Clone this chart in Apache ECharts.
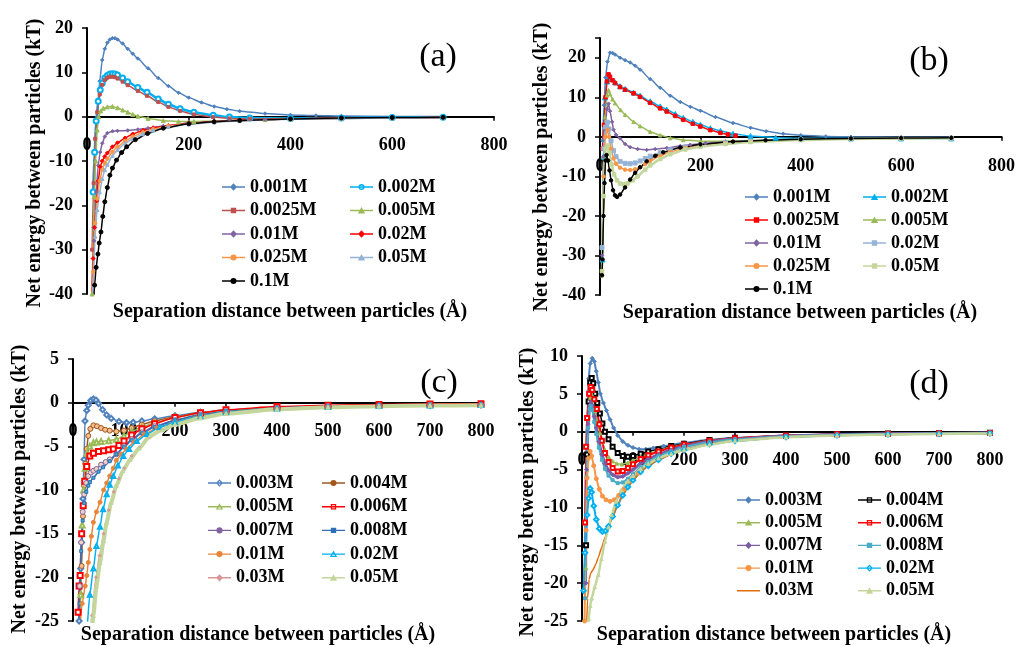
<!DOCTYPE html>
<html><head><meta charset="utf-8">
<script src="https://cdn.jsdelivr.net/npm/echarts@6/dist/echarts.min.js"></script>
<style>html,body{margin:0;padding:0;background:#fff}#c{width:1018px;height:647px}</style>
</head><body><div id="c"></div>
<script>
// ---------- Panel (a) ----------
const A_names = ['0.001M','0.002M','0.0025M','0.005M','0.01M','0.02M','0.025M','0.05M','0.1M'];
const A_0001 = [[10,-45],[13,-25],[16,-10],[20,0],[25,8],[30,12.8],[35,15.3],[40,16.7],[45,17.4],[50,17.7],[55,17.7],[60,17.4],[70,16.5],[80,15.3],[90,14.2],[100,13.1],[120,10.9],[140,8.7],[160,6.9],[180,5.4],[200,4.3],[225,3.2],[250,2.3],[275,1.7],[300,1.25],[350,0.7],[400,0.4],[450,0.25],[500,0.15],[600,0.05],[700,0.02]];
const A_0002 = [[12,-17],[15,-8],[18,-1],[22,3.5],[26,6],[30,7.6],[35,8.7],[40,9.3],[45,9.6],[50,9.7],[55,9.6],[60,9.4],[70,8.7],[80,7.9],[100,6.6],[118,5.5],[140,4.0],[160,2.8],[183,1.8],[210,1.0],[248,0.3],[280,-0.1],[320,-0.3],[400,-0.4],[500,-0.3],[600,-0.2],[700,-0.15]];
const A_00025 = [[10,-30],[13,-15],[16,-5],[20,1],[25,5],[30,7.2],[35,8.3],[40,8.8],[45,9.0],[50,9.0],[55,8.9],[60,8.6],[70,7.9],[80,7.1],[100,5.8],[118,4.7],[140,3.3],[160,2.2],[183,1.3],[210,0.5],[248,-0.1],[280,-0.4],[320,-0.5],[400,-0.5],[500,-0.35],[600,-0.25],[700,-0.2]];
const A_0005 = [[10,-40],[14,-18],[17,-10],[20,-3],[23,0],[27,1.3],[32,1.9],[40,2.2],[50,2.3],[60,2.0],[70,1.5],[80,1.0],[90,0.5],[100,0.1],[120,-0.4],[150,-0.9],[180,-1.1],[210,-1.1],[250,-1.0],[300,-0.8],[350,-0.65],[400,-0.5],[500,-0.35],[600,-0.25],[700,-0.2]];
const A_001 = [[10,-45],[14,-28],[18,-17],[22,-11],[26,-8],[30,-6],[35,-4.5],[40,-3.7],[50,-3.3],[60,-3.2],[80,-3.1],[100,-2.9],[120,-2.6],[150,-2.1],[200,-1.5],[250,-1.1],[300,-0.85],[350,-0.65],[400,-0.5],[500,-0.35],[600,-0.25],[700,-0.2]];
const A_002 = [[8,-45],[12,-32],[15,-25],[19,-19],[22,-14.5],[26,-11.3],[30,-10],[35,-9],[40,-8.2],[50,-6.8],[60,-5.9],[75,-4.8],[90,-3.9],[110,-3.1],[130,-2.5],[160,-2.0],[200,-1.5],[250,-1.1],[300,-0.8],[400,-0.5],[500,-0.35],[600,-0.25],[700,-0.2]];
const A_0025 = [[8,-45],[12,-35],[16,-24],[20,-18.5],[25,-14.5],[30,-12],[35,-10.5],[40,-9.5],[50,-7.9],[60,-6.8],[75,-5.5],[90,-4.5],[110,-3.5],[130,-2.8],[160,-2.1],[200,-1.6],[250,-1.2],[300,-0.9],[400,-0.55],[500,-0.4],[600,-0.3],[700,-0.2]];
const A_005 = [[8,-45],[12,-38],[16,-27],[20,-21],[25,-17],[30,-14],[35,-12],[40,-10.8],[50,-8.8],[60,-7.5],[75,-6],[90,-5],[110,-3.9],[130,-3.1],[160,-2.3],[200,-1.7],[250,-1.25],[300,-0.95],[400,-0.6],[500,-0.4],[600,-0.3],[700,-0.25]];
const A_01 = [[13,-42],[15,-38],[18,-34],[21.5,-31],[24,-28.5],[27.5,-26],[31,-22.5],[35,-19.2],[40,-16],[45,-13.2],[50,-11.6],[58,-9.8],[68,-8.1],[78,-6.8],[95,-5.2],[119,-3.8],[150,-2.6],[200,-1.6],[250,-1.15],[300,-0.85],[400,-0.5],[500,-0.3],[600,-0.2],[700,-0.15]];

// ---------- Panel (b) ----------
const B_names = ['0.001M','0.002M','0.0025M','0.005M','0.01M','0.02M','0.025M','0.05M','0.1M'];
const B_0001 = [[5,-1],[8,8],[11,15],[15,19],[20,21.3],[25,21.2],[30,20.8],[40,20],[50,19.4],[60,18.8],[70,18],[80,17],[100,14.6],[120,12.4],[140,10.4],[160,8.8],[180,7.6],[200,6.6],[230,5],[265,3.5],[300,2.3],[331,1.4],[365,0.8],[400,0.4],[450,0.1],[500,0],[600,-0.1],[700,-0.1]];
const B_0002 = [[5,-31],[7,-5],[10,10],[14,14],[18,15],[22,14.6],[30,13.8],[40,12.8],[50,12.1],[67,11.2],[80,10.4],[100,9.0],[120,7.7],[133,6.9],[150,5.8],[166,4.8],[185,3.8],[200,3.1],[220,2.2],[240,1.5],[265,0.8],[300,0.2],[350,-0.2],[400,-0.35],[500,-0.4],[600,-0.4],[700,-0.4]];
const B_00025 = [[5,-3],[8,3],[11,10],[14,14],[17,15.8],[20,15.2],[25,14.3],[30,13.6],[40,12.6],[50,11.9],[67,11.0],[80,10.1],[100,8.6],[120,7.2],[133,6.4],[150,5.3],[166,4.3],[185,3.3],[200,2.6],[220,1.7],[240,1.0],[255,0.6],[270,0.3]];
const B_0005 = [[4,-35],[7,-5],[10,5],[14,10.5],[17,11.8],[20,10.8],[25,9.5],[30,8.5],[41,6.8],[50,5.6],[67,3.8],[80,2.7],[100,1.3],[120,0.4],[140,-0.3],[166,-0.8],[200,-1.1],[250,-1.1],[300,-0.9],[400,-0.6],[500,-0.45],[600,-0.35],[700,-0.3]];
const B_001 = [[4,-30],[7,-5],[10,2],[14,7],[17,8.4],[20,6.5],[24,3.8],[27,1.8],[32,0.5],[40,-0.4],[50,-1.8],[60,-2.6],[75,-3.1],[93,-3.3],[110,-3.1],[133,-2.8],[160,-2.3],[180,-2.0],[210,-1.6],[250,-1.3],[300,-1.0],[400,-0.7],[500,-0.5],[600,-0.4],[700,-0.35]];
const B_002 = [[4,-28],[7,-3],[11,2.5],[15,3.7],[18,2],[22,-1],[27,-3.5],[32,-5],[40,-6.2],[50,-6.7],[60,-6.8],[70,-6.6],[80,-6.1],[90,-5.5],[100,-4.9],[120,-4],[140,-3.3],[170,-2.6],[200,-2.1],[250,-1.5],[300,-1.1],[400,-0.7],[500,-0.5],[600,-0.4],[700,-0.35]];
const B_0025 = [[4,-35],[7,-10],[11,0],[15,1.8],[18,0],[22,-3],[27,-5.5],[32,-6.8],[40,-7.8],[50,-8.3],[60,-8.4],[70,-8.2],[80,-7.6],[90,-6.9],[100,-6.1],[120,-4.8],[140,-3.8],[170,-2.8],[200,-2.2],[250,-1.6],[300,-1.2],[400,-0.75],[500,-0.5],[600,-0.4],[700,-0.35]];
const B_005 = [[4,-34],[7,-15],[11,-3],[15,-2.2],[19,-4],[23,-7],[28,-9.5],[34,-11],[40,-11.8],[47,-12],[55,-11.8],[65,-11],[75,-10],[90,-8.3],[100,-7.2],[120,-5.6],[140,-4.4],[170,-3.2],[200,-2.5],[250,-1.8],[300,-1.3],[400,-0.8],[500,-0.55],[600,-0.4],[700,-0.35]];
const B_01 = [[4,-35],[5,-31],[7,-20],[9,-11.7],[11,-6],[13,-4.6],[16,-6],[19,-8.5],[22,-11],[26,-13.5],[30,-14.8],[34,-15.2],[40,-14.6],[50,-12.8],[60,-10.8],[70,-9.1],[80,-7.7],[93,-6.2],[110,-4.8],[126,-3.9],[160,-2.7],[200,-1.9],[265,-1.2],[330,-0.85],[400,-0.6],[500,-0.4],[600,-0.3],[700,-0.25]];

// ---------- Panel (c) ----------
const C_names = ['0.003M','0.004M','0.005M','0.006M','0.007M','0.008M','0.01M','0.02M','0.03M','0.05M'];
const C_0003 = [[12,-25],[15,-19],[17,-16],[19.5,-11],[21.6,-6.5],[23.5,-2.1],[27,-0.9],[30,-0.3],[35,0.25],[40,0.42],[45,0.3],[50,-0.1],[58,-0.8],[66,-1.4],[75,-1.8],[90,-2.15],[105,-2.3],[118,-2.25],[135,-2.1],[160,-1.85],[200,-1.5],[250,-1.1],[300,-0.85],[400,-0.55],[500,-0.4],[600,-0.33],[700,-0.3],[800,-0.28]];
const C_0004 = [[12,-28],[15,-22],[17,-18.7],[19.5,-13],[21.6,-9.5],[24,-7],[26.8,-5.3],[30,-3.8],[34,-3.0],[40,-2.6],[47,-2.7],[55,-2.9],[63,-3.1],[72,-3.2],[85,-3.3],[100,-3.2],[115,-2.9],[135,-2.5],[160,-2.1],[200,-1.6],[250,-1.15],[300,-0.85],[400,-0.55],[500,-0.4],[600,-0.3],[700,-0.25],[800,-0.22]];
const C_0005 = [[12,-30],[15,-22],[18,-14],[21,-10],[24,-7.5],[28,-5.8],[33,-5],[40,-4.6],[46,-4.5],[55,-4.45],[70,-4.35],[85,-4.2],[100,-3.8],[115,-3.3],[135,-2.8],[160,-2.3],[200,-1.7],[250,-1.2],[300,-0.9],[400,-0.55],[500,-0.4],[600,-0.3],[700,-0.25],[800,-0.2]];
const C_0006 = [[10,-24],[12,-21],[14,-19.8],[17,-15],[20,-11.8],[23,-9],[27,-7.3],[33,-6.1],[40,-5.8],[50,-5.6],[60,-5.5],[70,-5.4],[79,-5.3],[90,-4.9],[100,-4.4],[115,-3.7],[135,-3.0],[160,-2.4],[200,-1.7],[250,-1.15],[300,-0.8],[400,-0.45],[500,-0.3],[600,-0.2],[700,-0.15],[800,-0.12]];
const C_0007 = [[10,-28],[13,-21],[16,-16],[19,-12.5],[22,-10.5],[26,-9.2],[30,-8.4],[35,-8],[40,-7.8],[46,-7.6],[55,-7.1],[64,-6.8],[72,-6.5],[85,-5.9],[100,-5.0],[115,-4.2],[135,-3.4],[160,-2.7],[200,-2.0],[250,-1.35],[300,-1.0],[400,-0.6],[500,-0.42],[600,-0.32],[700,-0.27],[800,-0.23]];
const C_0008 = [[10,-30],[13,-23],[16,-17],[19,-13.5],[22,-11.5],[26,-10.2],[30,-9.5],[33,-9.1],[40,-8.6],[50,-7.9],[59,-7.4],[72,-6.7],[85,-5.9],[100,-5.1],[115,-4.3],[135,-3.5],[160,-2.8],[200,-2.0],[250,-1.4],[300,-1.0],[400,-0.62],[500,-0.45],[600,-0.35],[700,-0.3],[800,-0.25]];
const C_001 = [[12,-27],[18,-23],[24,-21],[27,-19.8],[30,-18.3],[33,-16.8],[36,-15.3],[40,-13.7],[46,-12.5],[53,-11.4],[60,-10],[66,-9.2],[72,-8.4],[79,-7.5],[85,-6.6],[95,-5.9],[105,-5.3],[120,-4.5],[140,-3.6],[165,-2.9],[200,-2.2],[250,-1.5],[300,-1.1],[400,-0.65],[500,-0.45],[600,-0.35],[700,-0.3],[800,-0.25]];
const C_002 = [[20,-30],[27,-26],[33,-22],[40,-19],[46,-16.4],[53,-14.2],[59,-12.2],[66,-10.5],[72,-9.4],[79,-8.4],[88,-7.2],[98.6,-6.1],[110,-5.3],[125,-4.4],[145,-3.6],[170,-2.8],[200,-2.2],[250,-1.55],[300,-1.1],[400,-0.7],[500,-0.5],[600,-0.38],[700,-0.32],[800,-0.28]];
const C_003 = [[25,-32],[30,-28],[37,-24.4],[45,-20],[52,-17.5],[60,-15],[70,-12.3],[80,-10.2],[90,-8.7],[100,-7.5],[115,-6.1],[130,-5.1],[150,-4.0],[175,-3.1],[200,-2.5],[250,-1.7],[300,-1.2],[400,-0.75],[500,-0.5],[600,-0.4],[700,-0.33],[800,-0.3]];
const C_005 = [[28,-32],[34,-28],[40,-24.4],[46,-21],[53,-18.3],[60,-15.8],[66,-13.7],[75,-11.4],[85,-9.5],[98,-7.8],[112,-6.5],[130,-5.2],[151,-3.8],[175,-3.1],[200,-2.5],[250,-1.75],[300,-1.25],[400,-0.75],[500,-0.52],[600,-0.4],[700,-0.33],[800,-0.3]];

// ---------- Panel (d) ----------
const D_names = ['0.003M','0.004M','0.005M','0.006M','0.007M','0.008M','0.01M','0.02M','0.03M','0.05M'];
const D_0003 = [[8,-20],[10,0],[13,7],[16,9],[20,9.7],[24,9.3],[28,8],[32,6.5],[36,5],[42,3.8],[48,2.8],[55,1.6],[62,0.5],[70,-0.5],[80,-1.3],[90,-1.8],[100,-2.1],[112,-2.3],[125,-2.3],[140,-2.15],[160,-1.9],[200,-1.45],[250,-1.05],[300,-0.8],[400,-0.5],[500,-0.35],[600,-0.25],[700,-0.2],[800,-0.15]];
const D_0004 = [[8,-15],[10,-3],[13,4],[16,6.5],[19,7.1],[22,6.4],[26,5],[30,3.8],[35,2.4],[40,1.1],[45,0],[52,-1],[60,-2],[70,-2.8],[80,-3.2],[90,-3.3],[100,-3.2],[115,-2.9],[130,-2.6],[150,-2.3],[175,-1.9],[200,-1.6],[250,-1.1],[300,-0.8],[400,-0.5],[500,-0.35],[600,-0.25],[700,-0.2],[800,-0.15]];
const D_0005 = [[8,-18],[10,-5],[13,2],[16,4.5],[19,5],[22,4.3],[26,2.8],[30,1.3],[35,-0.2],[40,-1.4],[45,-2.4],[52,-3.3],[60,-3.9],[68,-4.2],[78,-4.3],[90,-4.1],[100,-3.8],[115,-3.3],[130,-2.9],[150,-2.5],[175,-2.0],[200,-1.7],[250,-1.15],[300,-0.85],[400,-0.5],[500,-0.35],[600,-0.28],[700,-0.22],[800,-0.18]];
const D_0006 = [[6,-12],[8,-2],[10,1.8],[14,5],[17,5.9],[20,5.5],[24,4.3],[29,3.0],[34,1],[39,-1.2],[45,-2.8],[52,-4],[60,-4.8],[70,-5.25],[80,-5.2],[90,-4.8],[100,-4.3],[115,-3.6],[130,-3.1],[150,-2.6],[175,-2.1],[200,-1.7],[250,-1.2],[300,-0.85],[400,-0.5],[500,-0.35],[600,-0.27],[700,-0.2],[800,-0.16]];
const D_0007 = [[6,-20],[9,-5],[12,1],[15,3.5],[17,3.9],[20,3.5],[24,2],[28,0.5],[33,-1.3],[39,-3],[45,-4.2],[52,-5.1],[60,-5.7],[70,-6.0],[80,-5.9],[90,-5.5],[100,-5.0],[115,-4.2],[130,-3.6],[150,-3.0],[175,-2.4],[200,-1.9],[250,-1.3],[300,-0.95],[400,-0.55],[500,-0.38],[600,-0.28],[700,-0.22],[800,-0.18]];
const D_0008 = [[6,-22],[9,-6],[12,0.5],[15,3],[17,3.4],[20,2.9],[24,1.3],[28,-0.3],[33,-2.1],[39,-3.7],[45,-4.9],[52,-5.8],[60,-6.4],[70,-6.8],[80,-6.7],[90,-6.2],[100,-5.6],[115,-4.7],[130,-4.0],[150,-3.2],[175,-2.6],[200,-2.0],[250,-1.4],[300,-1.0],[400,-0.6],[500,-0.4],[600,-0.3],[700,-0.24],[800,-0.2]];
const D_001 = [[5,-25],[8,-13],[10,-6.1],[13,-3.5],[16,-2.6],[19,-3.2],[23,-4.5],[28,-6.2],[34,-7.6],[40,-8.5],[47,-9.0],[55,-9.2],[63,-9.0],[72,-8.4],[82,-7.6],[95,-6.5],[110,-5.5],[130,-4.5],[150,-3.7],[175,-2.9],[200,-2.3],[250,-1.6],[300,-1.15],[400,-0.65],[500,-0.45],[600,-0.33],[700,-0.26],[800,-0.22]];
const D_002 = [[3,-21],[6,-16],[10,-11],[13,-8.8],[16,-7.5],[19,-8],[23,-9.8],[28,-11.6],[34,-12.8],[40,-13.2],[46,-13.1],[52,-12.5],[60,-11.2],[70,-9.7],[80,-8.4],[90,-7.3],[100,-6.4],[115,-5.3],[130,-4.5],[150,-3.7],[175,-2.9],[200,-2.4],[250,-1.65],[300,-1.2],[400,-0.7],[500,-0.48],[600,-0.35],[700,-0.28],[800,-0.23]];
const D_003 = [[8,-28],[11,-22],[14,-19.5],[17,-18.7],[22,-18.2],[27,-17.5],[32,-16.6],[38,-15.4],[45,-14],[52,-12.6],[60,-11.2],[70,-9.6],[80,-8.3],[90,-7.3],[100,-6.4],[115,-5.3],[130,-4.5],[150,-3.7],[175,-3.0],[200,-2.4],[250,-1.7],[300,-1.2],[400,-0.72],[500,-0.5],[600,-0.37],[700,-0.3],[800,-0.25]];
const D_005 = [[10,-28],[13,-24.7],[16,-23],[19,-22],[25,-20.5],[32,-18.9],[38,-16.8],[45,-14.5],[52,-12.6],[58,-11],[67,-9.2],[77,-7.7],[90,-6.5],[100,-5.8],[115,-4.9],[130,-4.2],[150,-3.5],[175,-2.9],[200,-2.4],[250,-1.7],[300,-1.2],[400,-0.72],[500,-0.5],[600,-0.37],[700,-0.3],[800,-0.25]];

// ---------- Build ----------
const FONT = 'Liberation Serif, Times New Roman, serif';
const chart = echarts.init(document.getElementById('c'), null, {renderer:'canvas'});

// legend icon: line with marker, in a 24x12 box
function iconPath(shape, empty) {
  let p = 'M0,0h0.01v0.01h-0.01Z M23.99,11.99h0.01v0.01h-0.01Z M0,5.25H24V6.75H0Z';
  if (shape === 'diamond') { p += ' M12,2.2L15.6,6L12,9.8L8.4,6Z'; if (empty) p += ' M12,4L10.2,6L12,8L13.8,6Z'; }
  else if (shape === 'rect') { p += ' M9.2,3.2H14.8V8.8H9.2Z'; if (empty) p += ' M10.4,4.4V7.6H13.6V4.4Z'; }
  else if (shape === 'triangle') { p += ' M12,2.3L15.8,9L8.2,9Z'; if (empty) p += ' M12,4.8L10.4,7.8L13.6,7.8Z'; }
  else if (shape === 'circle') { p += ' M8.8,6A3.2,3.2 0 1 1 15.2,6A3.2,3.2 0 1 1 8.8,6Z'; if (empty) p += ' M10.4,6A1.6,1.6 0 1 0 13.6,6A1.6,1.6 0 1 0 10.4,6Z'; }
  return 'path://' + p;
}

const legendItems = {a:{}, b:{}, c:{}, d:{}};
function S(g, key, name, data, color, symbol, size, width, extra) {
  const s = {
    type:'line', name: key + ':' + name, xAxisIndex:g, yAxisIndex:g, data: data,
    symbol: symbol, symbolSize: size, showSymbol: symbol !== 'none', smooth: 0.2, smoothMonotone: 'x',
    lineStyle:{color: color, width: width}, itemStyle:{color: color, borderColor: color, borderWidth: 1},
    animation:false, clip:true, emphasis:{disabled:true}
  };
  if (extra) {
    if (extra.markerFill) s.itemStyle.color = extra.markerFill;
    if (extra.markerBorder) s.itemStyle.borderColor = extra.markerBorder;
  }
  const empty = symbol.indexOf('empty') === 0;
  const base = empty ? symbol.slice(5).toLowerCase() : symbol;
  legendItems[key][name] = {name: key + ':' + name, icon: iconPath(base, empty), itemStyle:{color: color, borderWidth:0}};
  return s;
}

const series = [
  S(0,'a',A_names[0],A_0001,'#4F81BD','diamond',3.5,1.5),
  S(0,'a',A_names[1],A_0002,'#00B0F0','emptyCircle',5,2.5),
  S(0,'a',A_names[2],A_00025,'#C0504D','rect',3,1.5),
  S(0,'a',A_names[3],A_0005,'#9BBB59','triangle',4,1.5),
  S(0,'a',A_names[4],A_001,'#8064A2','diamond',3.5,1.5),
  S(0,'a',A_names[5],A_002,'#FF0000','diamond',4,1.5),
  S(0,'a',A_names[6],A_0025,'#F79646','circle',3.5,1.5),
  S(0,'a',A_names[7],A_005,'#95B3D7','triangle',3.5,1.5),
  S(0,'a',A_names[8],A_01,'#000000','circle',4,1.5),

  S(1,'b',B_names[0],B_0001,'#4F81BD','diamond',3.5,1.5),
  S(1,'b',B_names[1],B_0002,'#00B0F0','triangle',5,1.5),
  S(1,'b',B_names[2],B_00025,'#FF0000','rect',3.5,1.5),
  S(1,'b',B_names[3],B_0005,'#9BBB59','triangle',3.5,1.5),
  S(1,'b',B_names[4],B_001,'#8064A2','diamond',3.5,1.5),
  S(1,'b',B_names[5],B_002,'#95B3D7','rect',4,1.5),
  S(1,'b',B_names[6],B_0025,'#F79646','circle',3.5,1.5),
  S(1,'b',B_names[7],B_005,'#C3D69B','rect',3.5,2.5),
  S(1,'b',B_names[8],B_01,'#000000','circle',3.5,1.5),

  S(2,'c',C_names[0],C_0003,'#4F81BD','emptyDiamond',5,1.5),
  S(2,'c',C_names[1],C_0004,'#A0581E','circle',5,1.5,{markerFill:'#F6BE8E',markerBorder:'#A0581E'}),
  S(2,'c',C_names[2],C_0005,'#9BBB59','emptyTriangle',5,1.5),
  S(2,'c',C_names[3],C_0006,'#FF0000','emptyRect',5,1.5),
  S(2,'c',C_names[4],C_0007,'#8064A2','circle',5,1.5,{markerFill:'#F2D3C2',markerBorder:'#8064A2'}),
  S(2,'c',C_names[5],C_0008,'#2E6FB7','rect',3,1.5,{markerFill:'#4BACC6'}),
  S(2,'c',C_names[6],C_001,'#E8853A','circle',4,1.5),
  S(2,'c',C_names[7],C_002,'#00B0F0','emptyTriangle',4,1.5),
  S(2,'c',C_names[8],C_003,'#D99694','diamond',3,1.5),
  S(2,'c',C_names[9],C_005,'#C3D69B','triangle',4,4),

  S(3,'d',D_names[0],D_0003,'#4F81BD','diamond',4,2),
  S(3,'d',D_names[1],D_0004,'#000000','emptyRect',4,1.5,{markerBorder:'#8E7CC3'}),
  S(3,'d',D_names[2],D_0005,'#9BBB59','triangle',3.5,1.5),
  S(3,'d',D_names[3],D_0006,'#FF0000','emptyRect',4,2),
  S(3,'d',D_names[4],D_0007,'#7B5CA6','diamond',4,3),
  S(3,'d',D_names[5],D_0008,'#4BACC6','rect',3,2),
  S(3,'d',D_names[6],D_001,'#F79646','circle',4,2),
  S(3,'d',D_names[7],D_002,'#00B0F0','emptyDiamond',4.5,2),
  S(3,'d',D_names[8],D_003,'#E46C0A','none',1,1.5),
  S(3,'d',D_names[9],D_005,'#C3D69B','triangle',3.5,2.5)
];

const grids = [
  {left:87, top:28, width:407, height:266},
  {left:600, top:38, width:404, height:257},
  {left:73, top:359, width:408, height:262},
  {left:582, top:356, width:408, height:265}
];
const xInt = [200,200,100,100];
const yRange = [[-40,20,10],[-40,25,10],[-25,5,5],[-25,10,5]];
const lblStyle = {fontFamily:FONT, fontWeight:'bold', fontSize:18, color:'#000'};

// move each x axis (line, ticks, labels) up to its y = 0 level
const xOffset = grids.map((g,i)=> -(g.height * (0 - yRange[i][0]) / (yRange[i][1] - yRange[i][0])));

const xAxis = grids.map((g,i)=>({
  type:'value', gridIndex:i, min:0, max:800, interval:xInt[i], position:'bottom', offset:xOffset[i],
  axisLine:{show:true, onZero:false, lineStyle:{color:'#000', width:2}},
  axisTick:{show:true, length:4, lineStyle:{color:'#000', width:1.5}},
  axisLabel:Object.assign({margin:20}, lblStyle),
  splitLine:{show:false}
}));
const yAxis = grids.map((g,i)=>({
  type:'value', gridIndex:i, min:yRange[i][0], max:yRange[i][1], interval:yRange[i][2],
  axisLine:{show:true, onZero:false, lineStyle:{color:'#000', width:2}},
  axisTick:{show:true, length:5, lineStyle:{color:'#000', width:1.5}},
  axisLabel:Object.assign({margin:14, formatter:(v)=> (i===1 && v===25) ? '' : String(v)}, lblStyle),
  splitLine:{show:false}
}));

function L(left, top, gap, key, names) {
  return {
    orient:'vertical', left:left, top:top, itemWidth:23, itemHeight:12, itemGap:gap, padding:0,
    selectedMode:false, data: names.map(n=>legendItems[key][n]),
    formatter:(n)=>n.split(':')[1],
    textStyle:{fontFamily:FONT, fontWeight:'bold', fontSize:18, color:'#000', lineHeight:18}
  };
}
const legend = [
  L(222,178,5.5,'a',['0.001M','0.0025M','0.01M','0.025M','0.1M']),
  L(350,178,5.5,'a',['0.002M','0.005M','0.02M','0.05M']),
  L(745,188,5,'b',['0.001M','0.0025M','0.01M','0.025M','0.1M']),
  L(863,188,5,'b',['0.002M','0.005M','0.02M','0.05M']),
  L(208,474,5.7,'c',['0.003M','0.005M','0.007M','0.01M','0.03M']),
  L(322,474,5.7,'c',['0.004M','0.006M','0.008M','0.02M','0.05M']),
  L(737,491,4.7,'d',['0.003M','0.005M','0.007M','0.01M','0.03M']),
  L(858,491,4.7,'d',['0.004M','0.006M','0.008M','0.02M','0.05M'])
];

const XT = 'Separation distance between particles (Å)';
const YT = 'Net energy between particles (kT)';
function T(x, y, text, size, bold, rot) {
  return {type:'text', x:x, y:y, rotation: rot || 0, silent:true,
    style:{text:text, fill:'#000', font:(bold?'bold ':'') + size + 'px ' + FONT, textAlign:'center', textVerticalAlign:'middle'}};
}
const graphic = [
  T(438,57,'(a)',34,false), T(929,61,'(b)',34,false), T(439,383,'(c)',34,false), T(929,384,'(d)',34,false),
  T(290,312,XT,20,true), T(800,313,XT,20,true), T(258,635,XT,20,true), T(774,635,XT,20,true),
  T(35,163,YT,20,true,Math.PI/2), T(542,167,YT,20,true,Math.PI/2), T(20,489,YT,20,true,Math.PI/2), T(528,492,YT,20,true,Math.PI/2)
];

chart.setOption({
  animation:false, backgroundColor:'#fff',
  grid:grids, xAxis:xAxis, yAxis:yAxis, legend:legend, series:series, graphic:graphic
});
</script></body></html>
